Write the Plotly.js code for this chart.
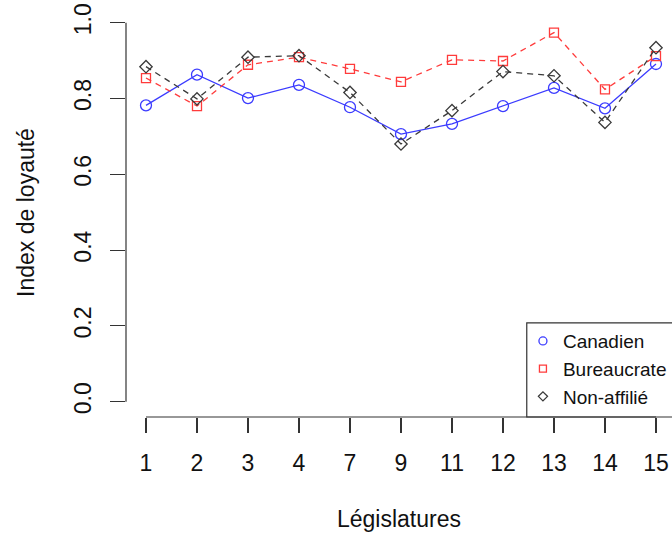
<!DOCTYPE html>
<html>
<head>
<meta charset="utf-8">
<script src="https://cdn.plot.ly/plotly-3.0.1.min.js"></script>
<style>html,body{margin:0;padding:0;background:#fff;overflow:hidden;}</style>
</head>
<body>
<div id="chart" style="width:672px;height:535px;"></div>
<script>
const legislatures = ["1","2","3","4","7","9","11","12","13","14","15"];
const canadien    = [0.782,0.863,0.801,0.836,0.777,0.706,0.733,0.780,0.828,0.774,0.891];
const bureaucrate = [0.854,0.780,0.889,0.909,0.878,0.844,0.902,0.899,0.974,0.824,0.912];
const nonAffilie  = [0.884,0.799,0.909,0.913,0.816,0.680,0.768,0.871,0.860,0.737,0.934];
const yTicks = [0, 0.2, 0.4, 0.6, 0.8, 1.0];
const seriesNames = ["Canadien","Bureaucrate","Non-affilié"];

const xIdx = legislatures.map((c,i)=>i+1);
const FONT = "Liberation Sans, Arial, Helvetica, sans-serif";
const BLUE = "#3b3bff", RED = "#ff3b3b", BLACK = "#3a3a3a";

const traces = [
  {x:xIdx, y:canadien, mode:"lines+markers", showlegend:false,
   line:{color:BLUE, width:1.3},
   marker:{symbol:"circle-open", size:11, color:BLUE, line:{width:1.3, color:BLUE}}},
  {x:xIdx, y:bureaucrate, mode:"lines+markers", showlegend:false,
   line:{color:RED, width:1.3, dash:"6px,5px"},
   marker:{symbol:"square-open", size:9, color:RED, line:{width:1.3, color:RED}}},
  {x:xIdx, y:nonAffilie, mode:"lines+markers", showlegend:false,
   line:{color:BLACK, width:1.3, dash:"6px,5px"},
   marker:{symbol:"diamond-open", size:9.5, color:BLACK, line:{width:1.3, color:BLACK}}},
  // legend-only entries (symbols only, like R legend with pch)
  {x:[null], y:[null], mode:"markers", name:seriesNames[0],
   marker:{symbol:"circle-open", size:8, color:BLUE, line:{width:1.3, color:BLUE}}},
  {x:[null], y:[null], mode:"markers", name:seriesNames[1],
   marker:{symbol:"square-open", size:7, color:RED, line:{width:1.3, color:RED}}},
  {x:[null], y:[null], mode:"markers", name:seriesNames[2],
   marker:{symbol:"diamond-open", size:7, color:BLACK, line:{width:1.3, color:BLACK}}}
];

const layout = {
  width:672, height:535,
  margin:{l:126, r:0, t:8, b:118, pad:0},
  paper_bgcolor:"#fff", plot_bgcolor:"#fff",
  font:{family:FONT, color:"#111"},
  showlegend:true,
  xaxis:{
    range:[0.608, 11.314], showgrid:false, zeroline:false, showline:false,
    tickmode:"array", tickvals:xIdx, ticktext:legislatures,
    ticks:"outside", ticklen:15, tickwidth:1.2, tickcolor:"#333",
    tickfont:{size:23, family:FONT, color:"#111"},
    ticklabelstandoff:10,
    title:{text:"Législatures", font:{size:23, family:FONT, color:"#111"}, standoff:36}
  },
  yaxis:{
    range:[-0.0404, 1.0388], showgrid:false, zeroline:false, showline:false,
    tickmode:"array", tickvals:yTicks, ticktext:yTicks.map(v=>v.toFixed(1)),
    ticks:"outside", ticklen:15, tickwidth:1.2, tickcolor:"#333",
    tickangle:-90,
    tickfont:{size:23, family:FONT, color:"#111"},
    ticklabelstandoff:10,
    title:{text:"Index de loyauté", font:{size:23, family:FONT, color:"#111"}, standoff:28}
  },
  legend:{
    x:0.727, y:0.232, xanchor:"left", yanchor:"top",
    bgcolor:"rgba(0,0,0,0)", borderwidth:0,
    font:{size:19, family:FONT, color:"#111"},
    tracegroupgap:0, itemwidth:30
  },
  shapes:[
    {type:"line", xref:"x", yref:"paper", x0:xIdx[0], x1:xIdx[xIdx.length-1], y0:0, y1:0,
     line:{color:"#333", width:1.2}},
    {type:"line", xref:"paper", yref:"y", x0:0, x1:0, y0:yTicks[0], y1:yTicks[yTicks.length-1],
     line:{color:"#333", width:1.2}},
    {type:"rect", xref:"paper", yref:"paper", x0:0.734, x1:1.05, y0:0, y1:0.23,
     line:{color:"#333", width:1.2}, fillcolor:"rgba(0,0,0,0)", layer:"above"}
  ]
};

Plotly.newPlot("chart", traces, layout, {displayModeBar:false, staticPlot:true});
</script>
</body>
</html>
